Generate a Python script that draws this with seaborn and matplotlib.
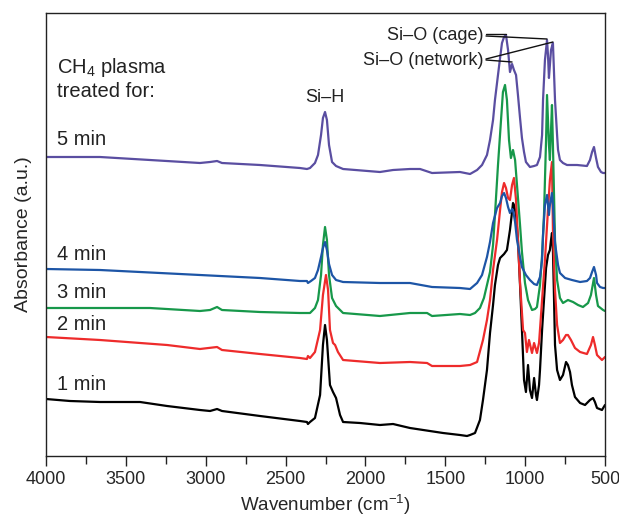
import numpy as np
import pandas as pd
import matplotlib
matplotlib.use("Agg")
import matplotlib.pyplot as plt
import seaborn as sns
from matplotlib.ticker import MultipleLocator

# ---------------- data (wavenumber in cm-1, absorbance in a.u., offset-stacked) ----------------
w_1min = [4000, 3850, 3662, 3411, 3242, 3036, 2973, 2929, 2898, 2660, 2410, 2366, 2360, 2347, 2316,
          2284, 2266, 2253, 2241, 2222, 2203, 2184, 2159, 2140, 2034, 1909, 1827, 1721, 1514, 1408,
          1364, 1345, 1314, 1283, 1264, 1239, 1220, 1201, 1189, 1170, 1157, 1132, 1114, 1095, 1082,
          1076, 1070, 1057, 1045, 1032, 1020, 1007, 995, 982, 970, 957, 944, 932, 926, 913, 907,
          894, 882, 869, 857, 845, 838, 832, 826, 819, 813, 800, 782, 763, 744, 732, 719, 707, 688,
          656, 625, 594, 575, 563, 550, 519, 500]
a_1min = [57, 55, 54, 54, 50, 46, 45, 47, 45, 40, 35, 34, 32, 34, 38,
          61, 111, 131, 116, 71, 64, 58, 41, 34, 33, 31, 32, 28, 23, 21,
          20, 21, 23, 36, 56, 86, 123, 151, 171, 191, 198, 202, 206, 226, 244,
          253, 251, 241, 216, 171, 126, 76, 64, 91, 66, 58, 78, 61, 56, 71, 86,
          126, 156, 188, 201, 206, 216, 223, 206, 156, 111, 86, 76, 81, 94, 91, 84, 71, 59,
          53, 51, 56, 58, 54, 48, 46, 51]

w_2min = [4000, 3662, 3242, 3036, 2929, 2898, 2660, 2410, 2366, 2360, 2347, 2316, 2284, 2266, 2247,
          2234, 2222, 2203, 2190, 2172, 2140, 1909, 1721, 1614, 1583, 1408, 1345, 1301, 1264, 1239,
          1220, 1201, 1176, 1157, 1145, 1132, 1120, 1107, 1095, 1082, 1070, 1057, 1045, 1032, 1013,
          1001, 989, 976, 957, 944, 926, 913, 894, 876, 857, 845, 832, 826, 813, 800, 782, 763,
          744, 732, 713, 688, 656, 613, 588, 575, 563, 550, 519, 500]
a_2min = [119, 116, 111, 107, 109, 106, 102, 98, 97, 100, 98, 104, 126, 161, 181,
          166, 126, 113, 111, 104, 96, 93, 94, 93, 90, 90, 91, 94, 116, 136,
          156, 186, 216, 246, 264, 273, 268, 258, 256, 271, 278, 256, 216, 173, 126,
          123, 104, 116, 103, 113, 103, 113, 156, 196, 246, 276, 294, 226, 166, 131, 113, 116,
          121, 121, 116, 108, 104, 102, 111, 119, 111, 101, 96, 99]

w_3min = [4000, 3662, 3349, 3036, 2973, 2929, 2898, 2660, 2410, 2347, 2316, 2297, 2278, 2266, 2253,
          2241, 2228, 2209, 2184, 2140, 1909, 1721, 1614, 1583, 1408, 1345, 1314, 1283, 1258, 1239,
          1220, 1201, 1189, 1170, 1151, 1139, 1126, 1114, 1101, 1089, 1076, 1063, 1051, 1032, 1020,
          1001, 982, 957, 938, 926, 907, 894, 882, 869, 863, 851, 845, 838, 832, 826, 813, 800,
          782, 763, 732, 700, 669, 638, 606, 588, 569, 556, 544, 512, 500]
a_3min = [148, 148, 148, 145, 146, 149, 146, 144, 143, 143, 148, 156, 181, 211, 229,
          216, 181, 158, 150, 143, 140, 143, 143, 140, 142, 141, 143, 148, 158, 171,
          184, 211, 241, 291, 336, 364, 371, 356, 316, 298, 306, 296, 271, 231, 204,
          173, 156, 146, 147, 149, 171, 201, 241, 316, 361, 311, 296, 326, 351, 311, 216, 176,
          158, 153, 156, 154, 151, 149, 153, 161, 178, 161, 150, 146, 145]

w_4min = [4000, 3662, 3036, 2660, 2410, 2366, 2360, 2341, 2316, 2297, 2278, 2266, 2253, 2241, 2228,
          2209, 2184, 2140, 1909, 1721, 1583, 1408, 1345, 1301, 1270, 1239, 1220, 1201, 1176, 1157,
          1145, 1132, 1120, 1107, 1095, 1082, 1076, 1063, 1051, 1032, 1020, 995, 970, 944, 926,
          907, 894, 888, 876, 863, 851, 845, 832, 826, 813, 794, 782, 750, 707, 656, 613, 594,
          581, 569, 556, 550, 531, 512, 500]
a_4min = [187, 186, 181, 178, 175, 175, 173, 175, 178, 186, 199, 208, 214, 206, 192,
          181, 176, 174, 173, 173, 169, 168, 167, 173, 181, 199, 214, 233, 248, 253,
          260, 263, 258, 249, 243, 247, 246, 234, 216, 199, 189, 181, 176, 172, 171,
          179, 196, 221, 251, 261, 241, 251, 263, 251, 213, 191, 183, 178, 176, 174, 175, 178,
          184, 189, 181, 173, 169, 168, 168]

w_5min = [4000, 3662, 3349, 3036, 2973, 2929, 2898, 2660, 2410, 2366, 2347, 2316, 2297, 2278, 2266,
          2253, 2241, 2228, 2209, 2184, 2140, 1909, 1827, 1721, 1658, 1583, 1408, 1345, 1301, 1270,
          1239, 1220, 1201, 1189, 1170, 1157, 1145, 1132, 1120, 1107, 1095, 1082, 1070, 1057, 1045,
          1032, 1020, 1007, 995, 970, 944, 926, 907, 894, 888, 876, 863, 857, 851, 845, 838, 826,
          813, 800, 794, 782, 763, 738, 675, 613, 594, 581, 569, 556, 544, 525, 512, 500]
a_5min = [299, 299, 296, 293, 294, 295, 293, 291, 288, 287, 288, 293, 301, 321, 338,
          344, 336, 311, 294, 290, 287, 284, 286, 287, 287, 283, 284, 282, 286, 291,
          301, 316, 336, 356, 381, 398, 413, 419, 421, 406, 384, 392, 386, 381, 361,
          338, 318, 304, 294, 289, 290, 291, 299, 321, 356, 396, 416, 401, 378, 391, 406, 413,
          356, 321, 306, 296, 293, 291, 291, 290, 296, 304, 309, 298, 289, 284, 283, 283]

series_labels = ["1 min", "2 min", "3 min", "4 min", "5 min"]
series_colors = ["#000000", "#ee2b2b", "#17984a", "#1d55a6", "#5a4ea1"]
x_ticks = [4000, 3500, 3000, 2500, 2000, 1500, 1000, 500]

curves = [(w_1min, a_1min), (w_2min, a_2min), (w_3min, a_3min), (w_4min, a_4min), (w_5min, a_5min)]
frames = []
for lab, (w, a) in zip(series_labels, curves):
    frames.append(pd.DataFrame({"wavenumber": w, "absorbance": a, "time": lab}))
df = pd.concat(frames, ignore_index=True)

# ---------------- style ----------------
sns.set_theme(style="ticks")
plt.rcParams["font.family"] = ["Liberation Sans", "DejaVu Sans"]
plt.rcParams["mathtext.fontset"] = "custom"
plt.rcParams["mathtext.rm"] = "Liberation Sans"
plt.rcParams["mathtext.it"] = "Liberation Sans"
plt.rcParams["mathtext.default"] = "regular"

fig = plt.figure(figsize=(6.19, 5.18), dpi=100)
ax = fig.add_axes([46 / 619, 62 / 518, 559 / 619, 443 / 518])

sns.lineplot(data=df, x="wavenumber", y="absorbance", hue="time",
             palette=dict(zip(series_labels, series_colors)),
             estimator=None, sort=False, linewidth=1.6, legend=False, ax=ax)

ax.set_xlim(4000, 500)
ax.set_ylim(0, 443)
ax.set_xticks(x_ticks)
ax.set_xticklabels([str(t) for t in x_ticks])
ax.xaxis.set_minor_locator(MultipleLocator(250))
ax.tick_params(axis="x", which="major", direction="out", length=7, width=1, labelsize=13, pad=4, color="#222222")
ax.tick_params(axis="x", which="minor", direction="out", length=6, width=1, color="#222222")
ax.set_yticks([])
for s in ax.spines.values():
    s.set_linewidth(1.0)
    s.set_color("#222222")

ax.set_xlabel("Wavenumber (cm$^{-1}$)", fontsize=13.5, labelpad=3)
ax.set_ylabel("Absorbance (a.u.)", fontsize=14, labelpad=10)

# ---------------- labels ----------------
txt_kw = dict(fontsize=14.5, color="#222222", va="center", ha="left")
ax.text(3931, 389, "CH$_4$ plasma", **txt_kw)
ax.text(3931, 365, "treated for:", **txt_kw)
label_heights = [72, 132, 163, 202, 317]
for lab, h in zip(series_labels, label_heights):
    ax.text(3931, h, lab, **txt_kw)

ax.text(2253, 359, "Si–H", fontsize=13, color="#222222", ha="center", va="center")

ax.text(1258, 421, "Si–O (cage)", fontsize=13, color="#222222", ha="right", va="center")
ax.text(1258, 396, "Si–O (network)", fontsize=13, color="#222222", ha="right", va="center")

w5 = np.array(w_5min)
a5 = np.array(a_5min)
def peak(lo, hi):
    m = (w5 >= lo) & (w5 <= hi)
    i = np.argmax(np.where(m, a5, -1))
    return w5[i], a5[i]

cage1 = peak(1100, 1140)
cage2 = peak(850, 880)
net1 = peak(1060, 1090)
net2 = peak(820, 845)
lk = dict(color="#111111", lw=1.0)
ax.plot([1245, cage1[0]], [422, cage1[1] + 1], **lk)
ax.plot([1245, cage2[0]], [420, cage2[1] + 1], **lk)
ax.plot([1245, net1[0]], [396, net1[1] + 2], **lk)
ax.plot([1245, net2[0]], [397, net2[1] + 1], **lk)

fig.savefig("out.png", dpi=100)
